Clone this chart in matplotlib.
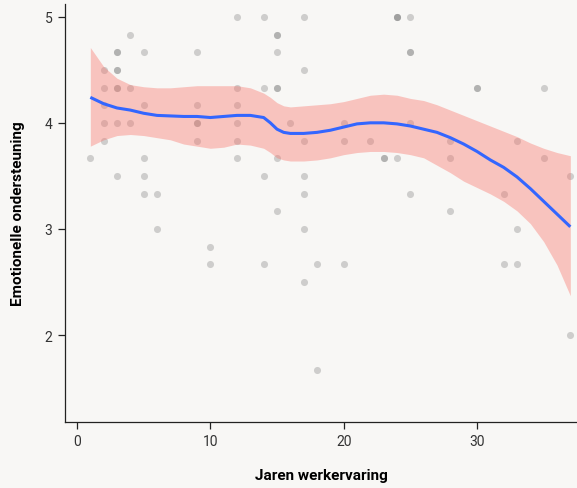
import numpy as np
import matplotlib
matplotlib.use('Agg')
import matplotlib.pyplot as plt

plt.rcParams['font.family'] = ['Roboto', 'DejaVu Sans']

# individuele antwoorden (jaren werkervaring, score), dubbele punten overlappen
pt_x = [1,
        2, 2, 2, 2, 2,
        3, 3, 3, 3, 3, 3, 3, 3,
        4, 4, 4,
        5, 5, 5, 5, 5,
        6, 6,
        9, 9, 9, 9, 9,
        10, 10,
        12, 12, 12, 12, 12, 12,
        14, 14, 14, 14,
        15, 15, 15, 15, 15, 15, 15,
        16,
        17, 17, 17, 17, 17, 17, 17,
        18, 18,
        20, 20, 20,
        22,
        23, 23,
        24, 24, 24, 24,
        25, 25, 25, 25, 25,
        28, 28, 28,
        30, 30,
        32, 32,
        33, 33, 33,
        35, 35,
        37, 37]
pt_y = [3.67,
        4.5, 4.33, 4.17, 4.0, 3.83,
        4.67, 4.67, 4.5, 4.5, 4.33, 4.33, 4.0, 3.5,
        4.83, 4.33, 4.0,
        4.67, 4.17, 3.67, 3.5, 3.33,
        3.33, 3.0,
        4.67, 4.17, 4.0, 4.0, 3.83,
        2.83, 2.67,
        5.0, 4.33, 4.17, 4.0, 3.83, 3.67,
        5.0, 4.33, 3.5, 2.67,
        4.83, 4.83, 4.67, 4.33, 4.33, 3.67, 3.17,
        4.0,
        5.0, 4.5, 3.83, 3.5, 3.33, 3.0, 2.5,
        2.67, 1.67,
        4.0, 3.83, 2.67,
        3.83,
        3.67, 3.67,
        5.0, 5.0, 5.0, 3.67,
        5.0, 4.67, 4.67, 4.0, 3.33,
        3.83, 3.67, 3.17,
        4.33, 4.33,
        3.33, 2.67,
        3.83, 3.0, 2.67,
        4.33, 3.67,
        3.5, 2.0]

# loess-lijn met betrouwbaarheidsband
fit_x = [1, 2, 3, 4, 5, 6, 7, 8, 9, 10, 11, 12, 13, 14, 14.5, 15, 15.5, 16, 17, 18, 19,
         20, 21, 22, 23, 24, 25, 26, 27, 28, 29, 30, 31, 32, 33, 34, 35, 36, 37]
fit_y = [4.24, 4.18, 4.14, 4.12, 4.09, 4.07, 4.065, 4.06, 4.06, 4.05, 4.06, 4.07, 4.07, 4.05, 4.0, 3.94,
         3.91, 3.9, 3.9, 3.91, 3.93, 3.96, 3.99, 4.0, 4.0, 3.99, 3.97, 3.94, 3.91, 3.86, 3.8, 3.73,
         3.65, 3.58, 3.49, 3.38, 3.26, 3.14, 3.02]
fit_hi = [4.71, 4.53, 4.42, 4.36, 4.34, 4.33, 4.33, 4.34, 4.35, 4.35, 4.35, 4.35, 4.33, 4.28, 4.24, 4.19,
          4.16, 4.15, 4.16, 4.17, 4.18, 4.2, 4.23, 4.26, 4.27, 4.26, 4.23, 4.21, 4.17, 4.12, 4.07, 4.02,
          3.97, 3.92, 3.87, 3.81, 3.76, 3.72, 3.69]
fit_lo = [3.78, 3.84, 3.88, 3.89, 3.88, 3.86, 3.84, 3.8, 3.78, 3.76, 3.77, 3.8, 3.79, 3.76, 3.72, 3.67,
          3.65, 3.64, 3.64, 3.65, 3.67, 3.7, 3.72, 3.73, 3.73, 3.72, 3.7, 3.67, 3.6, 3.53, 3.45, 3.39,
          3.33, 3.26, 3.17, 3.05, 2.88, 2.66, 2.37]

x_ticks = [0, 10, 20, 30]
y_ticks = [2, 3, 4, 5]

bg = '#f8f7f5'
fig = plt.figure(figsize=(5.77, 4.89), dpi=100, facecolor=bg)
ax = fig.add_axes([65 / 577, 1 - 423 / 489, 1 - 65 / 577, (423 - 5) / 489])
ax.set_facecolor(bg)

ax.scatter(pt_x, pt_y, s=26, color='#808080', alpha=0.35, linewidths=0, zorder=1)
ax.fill_between(fit_x, fit_lo, fit_hi, color='#f8766d', alpha=0.4, linewidth=0, zorder=2)
ax.plot(fit_x, fit_y, color='#3366ff', linewidth=2.2, zorder=3, solid_capstyle='butt')

ax.set_xlim(-0.9, 37.5)
ax.set_ylim(1.18, 5.12)
ax.set_xticks(x_ticks)
ax.set_yticks(y_ticks)

for side in ['top', 'right']:
    ax.spines[side].set_visible(False)
for side in ['left', 'bottom']:
    ax.spines[side].set_linewidth(0.9)
    ax.spines[side].set_color('#222222')

ax.tick_params(direction='out', length=5, width=0.9, color='#222222',
               labelsize=10, labelcolor='#333333', pad=4)

ax.set_xlabel('Jaren werkervaring', fontsize=11, fontweight='bold', labelpad=14)
ax.set_ylabel('Emotionelle ondersteuning', fontsize=11, fontweight='bold', labelpad=14)

fig.savefig('out.png', dpi=100, facecolor=bg)
